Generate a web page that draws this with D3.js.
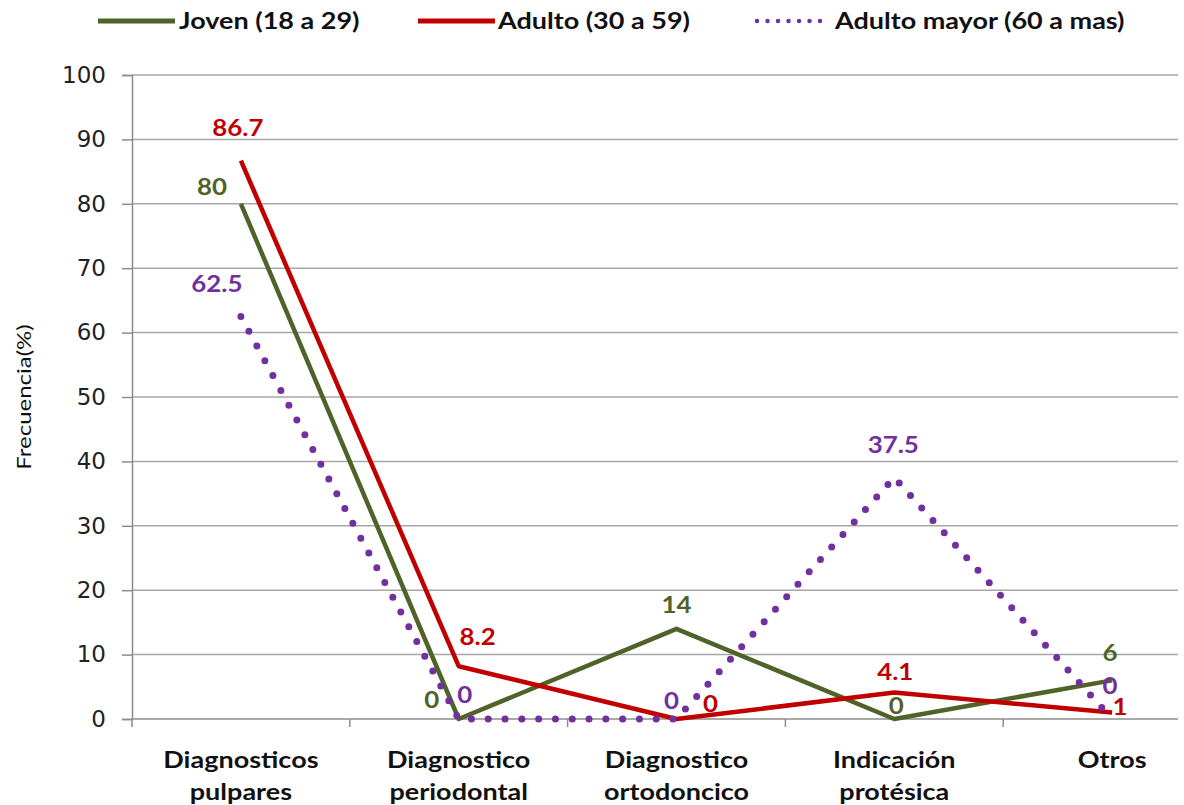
<!DOCTYPE html>
<html><head><meta charset="utf-8">
<script src="https://cdn.jsdelivr.net/npm/d3@7"></script>
<style>body{margin:0;background:#fff}svg{display:block}</style>
</head><body><svg id="c" width="1184" height="805"></svg>
<script>
const categories = [["Diagnosticos","pulpares"],["Diagnostico","periodontal"],["Diagnostico","ortodoncico"],["Indicación","protésica"],["Otros"]];
const seriesNames = ["Joven (18 a 29)","Adulto (30 a 59)","Adulto mayor (60 a mas)"];
const joven = [80, 0, 14, 0, 6];
const adulto = [86.7, 8.2, 0, 4.1, 1];
const adultoMayor = [62.5, 0, 0, 37.5, 0];
const yTicks = [0,10,20,30,40,50,60,70,80,90,100];

// label offsets (dx, dy from point, to label centre)
const offJoven = [[-29,-17],[-27,-19],[0,-24],[2,-13],[-2,-27]];
const offAdulto = [[-3,-33],[19,-29],[34,-15],[1,-21],[8,-6]];
const offMayor = [[-24,-33],[6,-24],[-5,-18],[-1,-33],[-2,-33]];

const colors = ["#4f6228","#c00000","#7030a0"];
const svg = d3.select("#c");
const x = d3.scaleBand().domain(d3.range(categories.length)).range([132,1221]);
const y = d3.scaleLinear().domain([0,100]).range([719,75]);
const gridRight = 1178;
const SX = 1.2;

// gridlines
svg.append("g").selectAll("line").data(yTicks.filter(d=>d>0)).join("line")
  .attr("x1",132).attr("x2",gridRight).attr("y1",d=>y(d)).attr("y2",d=>y(d))
  .attr("stroke","#a6a6a6").attr("stroke-width",1.5);

// y axis
const yAxis = svg.append("g").attr("transform","translate(132,0)")
  .call(d3.axisLeft(y).tickValues(yTicks).tickSize(10).tickPadding(16));
yAxis.select(".domain").attr("stroke","#8c8c8c").attr("stroke-width",1.5);
yAxis.selectAll(".tick line").attr("stroke","#8c8c8c").attr("stroke-width",1.5);
yAxis.selectAll("text").attr("font-family","DejaVu Sans").attr("font-size",23).attr("fill","#222");

// x axis
const xAxisG = svg.append("g");
xAxisG.append("line").attr("x1",132).attr("x2",gridRight).attr("y1",y(0)).attr("y2",y(0))
  .attr("stroke","#8c8c8c").attr("stroke-width",1.5);
xAxisG.selectAll("line.t").data(d3.range(categories.length)).join("line").attr("class","t")
  .attr("x1",d=>x(d)).attr("x2",d=>x(d)).attr("y1",y(0)).attr("y2",y(0)+8)
  .attr("stroke","#8c8c8c").attr("stroke-width",1.5);
const cx = i => x(i)+x.bandwidth()/2;
categories.forEach((lines,i)=>{
  const t = xAxisG.append("text").attr("text-anchor","middle")
    .attr("transform",`translate(${cx(i)},0) scale(${SX},1)`)
    .attr("font-family","Lato").attr("font-weight","bold").attr("font-size",22.5).attr("fill","#111");
  lines.forEach((l,j)=>t.append("tspan").attr("x",0).attr("y",768+j*32).text(l));
});

// y title
svg.append("text").attr("transform","translate(31,397) rotate(-90) scale(1.2,1)").attr("text-anchor","middle")
  .attr("font-family","Lato").attr("font-size",20).attr("fill","#111").text("Frecuencia(%)");

const allSeries = [joven, adulto, adultoMayor];
const offs = [offJoven, offAdulto, offMayor];
const line = d3.line().x((d,i)=>cx(i)).y(d=>y(d));

allSeries.forEach((s,k)=>{
  const p = svg.append("path").datum(s).attr("d",line).attr("fill","none")
    .attr("stroke",colors[k]).attr("stroke-linejoin","round");
  if(k===2) p.attr("stroke-width",7).attr("stroke-linecap","round").attr("stroke-dasharray","0 16.8");
  else p.attr("stroke-width",4.5);
});
allSeries.forEach((s,k)=>{
  svg.append("g").selectAll("text").data(s).join("text")
    .attr("transform",(d,i)=>`translate(${cx(i)+offs[k][i][0]},${y(d)+offs[k][i][1]}) scale(1.15,1)`)
    .attr("dy","0.36em").attr("text-anchor","middle")
    .attr("font-family","Lato").attr("font-weight","bold").attr("font-size",22.5)
    .attr("fill",colors[k]).text(d=>d);
});

// legend
const legX = [[98,175,179],[418,495,498],[757,822,835]];
seriesNames.forEach((n,k)=>{
  const g = svg.append("g");
  const l = g.append("line").attr("x1",legX[k][0]).attr("x2",legX[k][1]).attr("y1",21).attr("y2",21)
    .attr("stroke",colors[k]);
  if(k===2) l.attr("stroke-width",4.5).attr("stroke-linecap","round").attr("stroke-dasharray","0 10.5");
  else l.attr("stroke-width",5);
  g.append("text").attr("transform",`translate(${legX[k][2]},21) scale(${SX},1)`).attr("dy","0.36em")
    .attr("font-family","Lato").attr("font-weight","bold").attr("font-size",22.5).attr("fill","#111").text(n);
});
</script></body></html>
